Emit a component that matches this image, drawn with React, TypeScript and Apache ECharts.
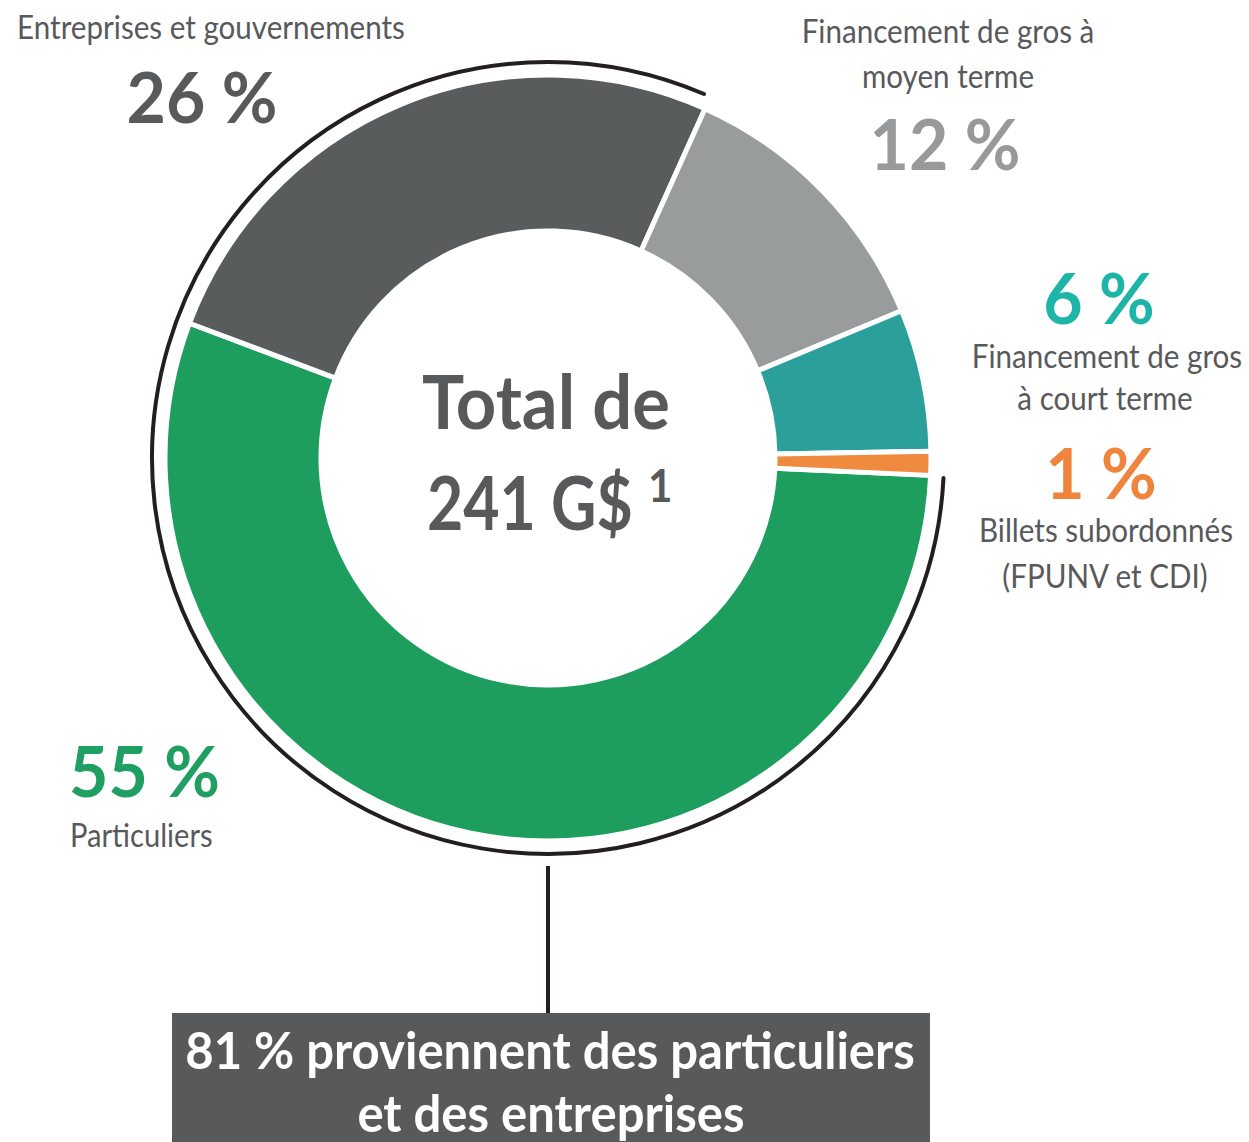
import React, { useEffect, useRef } from 'react';
import * as echarts from 'echarts';

// ---- data ----
const categories = [
  'Particuliers',
  'Entreprises et gouvernements',
  'Financement de gros à moyen terme',
  'Financement de gros à court terme',
  'Billets subordonnés (FPUNV et CDI)',
];
const shares = [55, 26, 12, 6, 1];
const categoryLines = [
  ['Particuliers'],
  ['Entreprises et gouvernements'],
  ['Financement de gros à', 'moyen terme'],
  ['Financement de gros', 'à court terme'],
  ['Billets subordonnés', '(FPUNV et CDI)'],
];
const totalLines = ['Total de', '241 G$'];
const totalNote = '1';
const calloutTail = ['proviennent des particuliers', 'et des entreprises'];

// ---- style ----
const sliceColors = ['#1e9e5e', '#585c5d', '#999c9c', '#2ba09b', '#f08a3e'];
const pctColors = ['#1fa062', '#58595b', '#97999b', '#1cb5a8', '#f0843c'];
const TEXT = '#58595b';
const FONT = 'Lato, "Open Sans", sans-serif';
const CX = 548;
const CY = 458;
const START = 357.4;

function measure(text: string, size: number, weight: string | number) {
  const c = document.createElement('canvas').getContext('2d')!;
  c.font = `${weight} ${size}px Lato`;
  return c.measureText(text).width;
}

function txt(text: string, x: number, y: number, size: number, weight: any, color: string, align: string, sx: number) {
  return {
    type: 'text',
    x,
    y,
    scaleX: sx,
    silent: true,
    style: {
      text,
      fontSize: size,
      fontWeight: weight,
      fontFamily: FONT,
      fill: color,
      align,
      verticalAlign: 'middle',
      textAlign: align,
      textVerticalAlign: 'middle',
    },
  };
}

export default function App() {
  const ref = useRef<HTMLDivElement>(null);
  useEffect(() => {
    document.body.style.margin = '0';
    const chart = echarts.init(ref.current!, null, { renderer: 'svg' });

    const LBL = 32, PCT = 70, TOT = 74, BOX = 52, SUP = 46;
    const sReg = 388 / measure(categoryLines[1][0], LBL, 'normal');
    const sPct = 151 / measure(`${shares[1]} %`, PCT, 'bold');
    const sTot = 248 / measure(totalLines[0], TOT, 'bold');
    const sTot2 = 206 / measure(totalLines[1], TOT, 'bold');
    const callout0 = `${shares[0] + shares[1]} % ${calloutTail[0]}`;
    const sBox = 730 / measure(callout0, BOX, 'bold');

    const pct = (i: number) => `${shares[i]} %`;
    const g: any[] = [];
    // Entreprises
    g.push(txt(categoryLines[1][0], 211, 27, LBL, 'normal', TEXT, 'center', sReg));
    g.push(txt(pct(1), 202, 96, PCT, 'bold', pctColors[1], 'center', sPct));
    // Moyen terme
    g.push(txt(categoryLines[2][0], 948, 31, LBL, 'normal', TEXT, 'center', sReg));
    g.push(txt(categoryLines[2][1], 948, 76, LBL, 'normal', TEXT, 'center', sReg));
    g.push(txt(pct(2), 945, 143, PCT, 'bold', pctColors[2], 'center', sPct));
    // Court terme
    g.push(txt(pct(3), 1099, 297, PCT, 'bold', pctColors[3], 'center', sPct));
    g.push(txt(categoryLines[3][0], 1107, 356, LBL, 'normal', TEXT, 'center', sReg));
    g.push(txt(categoryLines[3][1], 1105, 398, LBL, 'normal', TEXT, 'center', sReg));
    // Billets
    g.push(txt(pct(4), 1101, 472, PCT, 'bold', pctColors[4], 'center', sPct));
    g.push(txt(categoryLines[4][0], 1106, 530, LBL, 'normal', TEXT, 'center', sReg));
    g.push(txt(categoryLines[4][1], 1105, 576, LBL, 'normal', TEXT, 'center', sReg));
    // Particuliers
    g.push(txt(pct(0), 69, 770, PCT, 'bold', pctColors[0], 'left', sPct));
    g.push(txt(categoryLines[0][0], 70, 835, LBL, 'normal', TEXT, 'left', sReg * 0.985));
    // centre
    g.push(txt(totalLines[0], 546, 400, TOT, 'bold', TEXT, 'center', sTot));
    g.push(txt(totalLines[1], 427, 501, TOT, 'bold', TEXT, 'left', sTot2));
    g.push(txt(totalNote, 648, 484, SUP, 'bold', TEXT, 'left', 0.92));

    // outer arc over Particuliers + Entreprises
    const a0 = ((360 - START) + 0.3) * Math.PI / 180;
    const a1 = ((360 - START) + 360 * (shares[0] + shares[1]) / 100 - 1.0) * Math.PI / 180;
    g.push({
      type: 'arc',
      silent: true,
      shape: { cx: CX, cy: CY, r: 396, startAngle: a0, endAngle: a1, clockwise: true },
      style: { stroke: '#231f20', lineWidth: 4, fill: null, lineCap: 'round' },
    });
    g.push({
      type: 'line',
      silent: true,
      shape: { x1: CX, y1: 866, x2: CX, y2: 1014 },
      style: { stroke: '#231f20', lineWidth: 4 },
    });
    g.push({
      type: 'rect',
      silent: true,
      shape: { x: 172, y: 1013, width: 758, height: 140 },
      style: { fill: '#58595b' },
    });
    g.push(txt(callout0, 550, 1049, BOX, 'bold', '#ffffff', 'center', sBox));
    g.push(txt(calloutTail[1], 551, 1112, BOX, 'bold', '#ffffff', 'center', sBox));

    chart.setOption({
      animation: false,
      backgroundColor: '#ffffff',
      series: [
        {
          type: 'pie',
          center: [CX, CY],
          radius: [227, 383],
          startAngle: START,
          clockwise: true,
          silent: true,
          label: { show: false },
          labelLine: { show: false },
          emphasis: { disabled: true },
          itemStyle: { borderColor: '#ffffff', borderWidth: 5 },
          data: categories.map((c, i) => ({ name: c, value: shares[i], itemStyle: { color: sliceColors[i] } })),
        },
      ],
      graphic: g,
    });
    return () => chart.dispose();
  }, []);
  return <div ref={ref} style={{ width: 1249, height: 1142 }} />;
}
